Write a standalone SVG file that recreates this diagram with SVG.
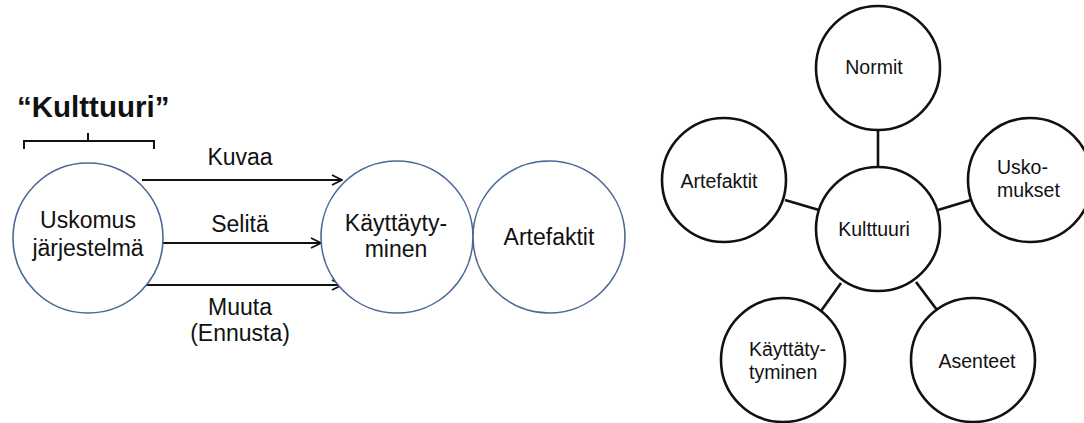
<svg xmlns="http://www.w3.org/2000/svg" width="1084" height="423" viewBox="0 0 1084 423">
  <defs>
    <marker id="arrow" viewBox="0 0 12 12" refX="11" refY="6" markerWidth="12" markerHeight="12" markerUnits="userSpaceOnUse" orient="auto">
      <path d="M1,1 L11,6 L1,11" fill="none" stroke="#111" stroke-width="1.8"/>
    </marker>
  </defs>
  <style>
    text { font-family: "Liberation Sans", Arial, sans-serif; fill: #111; }
    .blue { fill: #fff; stroke: #4b6894; stroke-width: 1.6; }
    .blk { fill: #fff; stroke: #111; stroke-width: 2.6; }
    .lbl { font-size: 23px; text-anchor: middle; }
    .sm { font-size: 19.5px; }
    .arr { stroke: #111; stroke-width: 1.8; fill: none; }
    .spoke { stroke: #111; stroke-width: 2.6; }
  </style>
  <rect width="1084" height="423" fill="#fff"/>

  <!-- left model: belief system drives behaviour -->
  <g id="title">
    <text x="17" y="117" font-size="29.5" font-weight="bold">“Kulttuuri”</text>
    <path d="M24,149 L24,141 L154,141 L154,149 M88,141 L88,133" fill="none" stroke="#111" stroke-width="2"/>
  </g>

  <g id="connectors-left">
    <line class="arr" x1="142" y1="180" x2="342" y2="180" marker-end="url(#arrow)"/>
    <line class="arr" x1="163" y1="243" x2="321" y2="243" marker-end="url(#arrow)"/>
    <line class="arr" x1="145" y1="285" x2="342" y2="285" marker-end="url(#arrow)"/>
    <text class="lbl" x="240" y="165">Kuvaa</text>
    <text class="lbl" x="240" y="232">Selitä</text>
    <text class="lbl" x="240" y="315">Muuta</text>
    <text class="lbl" x="240" y="341">(Ennusta)</text>
  </g>

  <g id="uskomusjarjestelma">
    <circle class="blue" cx="88" cy="238" r="75"/>
    <text class="lbl" x="88" y="228">Uskomus</text>
    <text class="lbl" x="88" y="256">järjestelmä</text>
  </g>
  <g id="kayttaytyminen">
    <circle class="blue" cx="397" cy="237" r="76"/>
    <text class="lbl" x="396" y="231">Käyttäyty-</text>
    <text class="lbl" x="396" y="257">minen</text>
  </g>
  <g id="artefaktit-left">
    <circle class="blue" cx="549" cy="237" r="76"/>
    <text class="lbl" x="549" y="245">Artefaktit</text>
  </g>

  <!-- right model: culture and its components -->
  <g id="connectors-right">
    <line class="spoke" x1="878" y1="129" x2="878" y2="167"/>
    <line class="spoke" x1="785" y1="200" x2="819" y2="210"/>
    <line class="spoke" x1="938" y1="210" x2="971" y2="200"/>
    <line class="spoke" x1="821" y1="311" x2="841" y2="283"/>
    <line class="spoke" x1="916" y1="282" x2="937" y2="310"/>
  </g>

  <g id="normit">
    <circle class="blk" cx="878" cy="68" r="62"/>
    <text class="sm" x="874" y="74" text-anchor="middle">Normit</text>
  </g>
  <g id="kulttuuri">
    <circle class="blk" cx="878" cy="229" r="62"/>
    <text class="sm" x="874" y="236" text-anchor="middle">Kulttuuri</text>
  </g>
  <g id="artefaktit">
    <circle class="blk" cx="724" cy="180" r="62"/>
    <text class="sm" x="719" y="188" text-anchor="middle">Artefaktit</text>
  </g>
  <g id="uskomukset">
    <circle class="blk" cx="1030" cy="180" r="62"/>
    <text class="sm" x="997" y="174">Usko-</text>
    <text class="sm" x="997" y="197">mukset</text>
  </g>
  <g id="kayttatyminen">
    <circle class="blk" cx="783" cy="360" r="62"/>
    <text class="sm" x="749" y="356">Käyttäty-</text>
    <text class="sm" x="749" y="379">tyminen</text>
  </g>
  <g id="asenteet">
    <circle class="blk" cx="973" cy="360" r="62"/>
    <text class="sm" x="977" y="368" text-anchor="middle">Asenteet</text>
  </g>
</svg>
